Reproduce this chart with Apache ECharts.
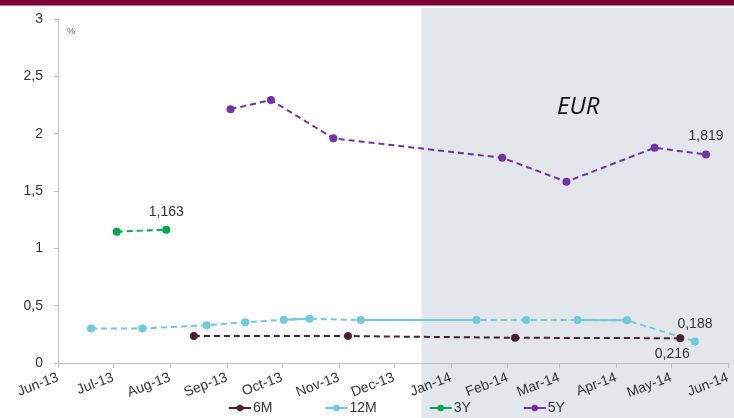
<!DOCTYPE html>
<html>
<head>
<meta charset="utf-8">
<script src="https://cdn.jsdelivr.net/npm/echarts@6/dist/echarts.min.js"></script>
<style>html,body{margin:0;padding:0;background:#fff}#c{width:734px;height:418px}</style>
</head>
<body>
<div id="c"></div>
<script>
// ---- data ----
const tickDates = ['2013-06-01','2013-07-01','2013-08-01','2013-09-01','2013-10-01','2013-11-01','2013-12-01','2014-01-01','2014-02-01','2014-03-01','2014-04-01','2014-05-01','2014-06-01'];
const tickLabels = ['Jun-13','Jul-13','Aug-13','Sep-13','Oct-13','Nov-13','Dec-13','Jan-14','Feb-14','Mar-14','Apr-14','May-14','Jun-14'];
const yTicks = [0, 0.5, 1, 1.5, 2, 2.5, 3];

const dates6M = ['2013-08-14','2013-11-06','2014-02-05','2014-05-06'];
const values6M = [0.235, 0.235, 0.22, 0.216];

const dates12M = ['2013-06-19','2013-07-17','2013-08-21','2013-09-11','2013-10-02','2013-10-16','2013-11-13','2014-01-15','2014-02-11','2014-03-11','2014-04-07','2014-05-14'];
const values12M = [0.30, 0.30, 0.33, 0.355, 0.377, 0.386, 0.375, 0.375, 0.375, 0.375, 0.372, 0.188];
const solidSegmentStarts12M = [4, 6, 9];

const dates3Y = ['2013-07-03','2013-07-30'];
const values3Y = [1.145, 1.163];

const dates5Y = ['2013-09-03','2013-09-25','2013-10-29','2014-01-29','2014-03-05','2014-04-22','2014-05-20'];
const values5Y = [2.214, 2.293, 1.959, 1.79, 1.581, 1.877, 1.819];

const seriesNames = ['6M','12M','3Y','5Y'];
const shadeStart = '2013-12-16';
const regionLabel = 'EUR';

// ---- helpers ----
const ts = d => Date.UTC(+d.slice(0, 4), +d.slice(5, 7) - 1, +d.slice(8, 10));
const fmt = v => String(v).replace('.', ',');
const colors = { '6M':'#4b1e34', '12M':'#6fcadb', '3Y':'#00a84f', '5Y':'#7432a6' };
function pts(dates, values, lastLabel) {
  return dates.map((d, i) => {
    const item = { value: [ts(d), values[i]] };
    if (lastLabel && i === dates.length - 1) item.label = Object.assign({ show: true }, lastLabel);
    return item;
  });
}
const tickTs = tickDates.map(ts);
function dash(name, dates, values, lastLabel) {
  return {
    name, type: 'line', data: pts(dates, values, lastLabel), z: 3,
    symbol: 'circle', symbolSize: 8, showSymbol: true,
    itemStyle: { color: colors[name] },
    lineStyle: { color: colors[name], width: 2, type: [6, 4] },
    label: { show: false, color: '#333', fontSize: 14, fontFamily: 'Liberation Sans', formatter: p => fmt(p.value[1]) },
    emphasis: { disabled: true }, animation: false
  };
}
const solid12 = [];
solidSegmentStarts12M.forEach(s => {
  solid12.push([ts(dates12M[s]), values12M[s]]);
  solid12.push([ts(dates12M[s + 1]), values12M[s + 1]]);
  solid12.push([ts(dates12M[s + 1]), '-']);
});

const chart = echarts.init(document.getElementById('c'), null, { renderer: 'canvas' });
const option = {
  animation: false,
  textStyle: { fontFamily: 'Liberation Sans' },
  grid: { left: 58, right: 6, top: 19, bottom: 55, containLabel: false },
  legend: {
    data: seriesNames, bottom: -2, left: 223, itemGap: 52, itemWidth: 22, itemHeight: 8,
    lineStyle: { type: 'solid' },
    textStyle: { color: '#333', fontSize: 14, fontFamily: 'Liberation Sans', padding: [0, 0, 0, -3] }
  },
  xAxis: {
    type: 'value', min: tickTs[0], max: tickTs[tickTs.length - 1],
    splitLine: { show: false },
    axisLine: { lineStyle: { color: '#bfbfbf', width: 1 } },
    axisTick: { show: true, customValues: tickTs, length: 5, lineStyle: { color: '#bfbfbf' } },
    axisLabel: {
      customValues: tickTs, rotate: 21, color: '#333', fontSize: 14, margin: 14,
      formatter: v => { let best = 0; tickTs.forEach((t, i) => { if (Math.abs(t - v) < Math.abs(tickTs[best] - v)) best = i; }); return tickLabels[best]; }
    }
  },
  yAxis: {
    type: 'value', min: yTicks[0], max: yTicks[yTicks.length - 1], interval: 0.5,
    splitLine: { show: false },
    axisLine: { show: true, lineStyle: { color: '#bfbfbf' } },
    axisTick: { show: true, length: 4, lineStyle: { color: '#bfbfbf' } },
    axisLabel: { color: '#333', fontSize: 14, margin: 15, formatter: v => fmt(v) }
  },
  series: [
    dash('6M', dates6M, values6M, { position: 'bottom', offset: [-8, 0] }),
    dash('12M', dates12M, values12M, { position: 'top', offset: [0, -1] }),
    dash('3Y', dates3Y, values3Y, { position: 'top', offset: [0, -2] }),
    dash('5Y', dates5Y, values5Y, { position: 'top', offset: [0, -2] }),
    {
      name: '12M solid', type: 'line', data: solid12, z: 2, symbol: 'none', connectNulls: false,
      lineStyle: { color: colors['12M'], width: 2, type: 'solid' }, itemStyle: { color: colors['12M'] },
      emphasis: { disabled: true }, silent: true, animation: false
    }
  ]
};
chart.setOption(option);
const shadeX = chart.convertToPixel({ xAxisIndex: 0 }, ts(shadeStart));
chart.setOption({
  graphic: [
    { type: 'rect', z: -10, silent: true, shape: { x: shadeX, y: 8, width: 734 - shadeX, height: 410 }, style: { fill: '#e3e6eb' } },
    { type: 'rect', z: 10, silent: true, shape: { x: 0, y: 0, width: 734, height: 5.5 }, style: { fill: '#7a0036' } },
    { type: 'text', z: 10, silent: true, left: 67, top: 27, style: { text: '%', fill: '#666', fontSize: 9, fontFamily: 'Liberation Sans' } },
    { type: 'text', z: 10, silent: true, left: 557, top: 95, style: { text: regionLabel, fill: '#111', fontSize: 24, fontStyle: 'italic', fontFamily: 'Open Sans' } }
  ]
});
</script>
</body>
</html>
